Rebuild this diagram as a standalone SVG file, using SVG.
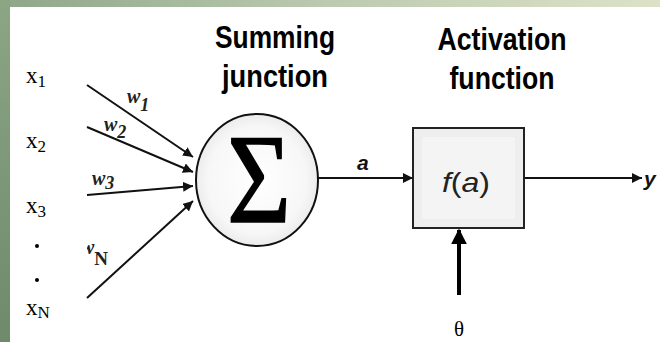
<svg xmlns="http://www.w3.org/2000/svg" width="660" height="342" viewBox="0 0 660 342">
  <defs>
    <linearGradient id="topBand" x1="0" y1="0" x2="1" y2="0">
      <stop offset="0" stop-color="#8ea788"/>
      <stop offset="0.5" stop-color="#bccab0"/>
      <stop offset="1" stop-color="#dde2c7"/>
    </linearGradient>
    <linearGradient id="sideBand" x1="0" y1="0" x2="0" y2="1">
      <stop offset="0" stop-color="#8ba585"/>
      <stop offset="1" stop-color="#6f8a6b"/>
    </linearGradient>
    <radialGradient id="sumFill" cx="0.5" cy="0.5" r="0.5">
      <stop offset="0" stop-color="#ffffff"/>
      <stop offset="0.8" stop-color="#f7f7f7"/>
      <stop offset="1" stop-color="#ececec"/>
    </radialGradient>
    <marker id="head" viewBox="0 0 10 10" refX="10" refY="5" markerWidth="10" markerHeight="10" markerUnits="userSpaceOnUse" orient="auto">
      <path d="M0,0 L10,5 L0,10 Z" fill="#111"/>
    </marker>
    <marker id="headBig" viewBox="0 0 10 10" refX="9" refY="5" markerWidth="4" markerHeight="4" orient="auto">
      <path d="M0,0 L10,5 L0,10 Z" fill="#000"/>
    </marker>
    <clipPath id="panel">
      <rect x="87" y="7" width="573" height="335"/>
    </clipPath>
    <style>
      .serif { font-family: "Liberation Serif", "Times New Roman", serif; fill: #000; }
      .head { font-family: "Liberation Sans", Arial, sans-serif; font-weight: bold; font-size: 32px; fill: #000; text-anchor: middle; }
      .lbl { font-family: "Liberation Sans", Arial, sans-serif; font-weight: bold; font-style: italic; font-size: 21px; fill: #111; }
      .wt { font-family: "Liberation Serif", "Times New Roman", serif; font-style: italic; font-weight: bold; font-size: 20px; fill: #222; }
      .wire { stroke: #111; stroke-width: 2; fill: none; }
    </style>
  </defs>

  <!-- slide frame -->
  <rect x="0" y="0" width="660" height="342" fill="#ffffff"/>
  <rect x="0" y="0" width="660" height="7" fill="url(#topBand)"/>
  <rect x="0" y="0" width="10" height="342" fill="url(#sideBand)"/>

  <!-- column headings -->
  <g id="heading-summing">
    <text class="head" x="275" y="48" textLength="120" lengthAdjust="spacingAndGlyphs">Summing</text>
    <text class="head" x="275" y="87" textLength="106" lengthAdjust="spacingAndGlyphs">junction</text>
  </g>
  <g id="heading-activation">
    <text class="head" x="502" y="50" textLength="129" lengthAdjust="spacingAndGlyphs">Activation</text>
    <text class="head" x="502" y="89" textLength="105" lengthAdjust="spacingAndGlyphs">function</text>
  </g>

  <!-- inputs -->
  <g id="inputs" class="serif">
    <text x="26" y="83" font-size="23">x<tspan font-size="17" dy="4">1</tspan></text>
    <text x="26" y="148" font-size="23">x<tspan font-size="17" dy="4">2</tspan></text>
    <text x="26" y="213" font-size="23">x<tspan font-size="17" dy="4">3</tspan></text>
    <circle cx="37" cy="246" r="2"/>
    <circle cx="37" cy="280" r="2"/>
    <text x="26" y="315" font-size="23">x<tspan font-size="17" dy="3">N</tspan></text>
  </g>

  <!-- connectors -->
  <g id="connectors">
    <line class="wire" x1="87" y1="85" x2="193" y2="157" marker-end="url(#head)"/>
    <line class="wire" x1="87" y1="127" x2="193" y2="172" marker-end="url(#head)"/>
    <line class="wire" x1="87" y1="195" x2="193" y2="186" marker-end="url(#head)"/>
    <line class="wire" x1="87" y1="298" x2="193" y2="201" marker-end="url(#head)"/>
    <line class="wire" x1="318" y1="178" x2="413" y2="178" marker-end="url(#head)"/>
    <line class="wire" x1="524" y1="178" x2="642" y2="178" marker-end="url(#head)"/>
    <line x1="459" y1="295" x2="459" y2="230" stroke="#000" stroke-width="4" marker-end="url(#headBig)"/>
  </g>

  <!-- weight labels -->
  <g id="weights">
    <text class="wt" x="127" y="103">w<tspan dy="8" font-size="18">1</tspan></text>
    <text class="wt" x="104" y="131">w<tspan dy="7" font-size="18">2</tspan></text>
    <text class="wt" x="92" y="185">w<tspan dy="4" font-size="18">3</tspan></text>
    <g clip-path="url(#panel)">
      <text class="wt" x="81" y="254">w<tspan dy="11" font-style="normal" font-size="19">N</tspan></text>
    </g>
  </g>

  <!-- summing junction -->
  <g id="sum-node">
    <ellipse cx="257" cy="180" rx="61" ry="66" fill="url(#sumFill)" stroke="#111" stroke-width="2"/>
    <text class="serif" x="259" y="222" font-size="126" text-anchor="middle" textLength="64" lengthAdjust="spacingAndGlyphs" stroke="#000" stroke-width="1.5">Σ</text>
  </g>

  <!-- signal label a -->
  <g id="label-a">
    <text class="lbl" x="357" y="170">a</text>
  </g>

  <!-- activation block -->
  <g id="activation-node">
    <rect x="413" y="128" width="111" height="100" fill="#eeeeee" stroke="#222" stroke-width="2"/>
    <rect x="422" y="137" width="93" height="82" fill="#f4f4f4"/>
    <text x="466" y="192" font-family="Liberation Sans, Arial, sans-serif" font-size="28" text-anchor="middle" fill="#222" textLength="48" lengthAdjust="spacingAndGlyphs"><tspan font-style="italic">f</tspan>(<tspan font-style="italic">a</tspan>)</text>
  </g>

  <!-- output -->
  <g id="output-y">
    <text class="lbl" x="644" y="186" font-size="22">y</text>
  </g>

  <!-- threshold -->
  <g id="threshold">
    <text class="serif" x="459" y="336" font-size="21" text-anchor="middle">θ</text>
  </g>
</svg>
